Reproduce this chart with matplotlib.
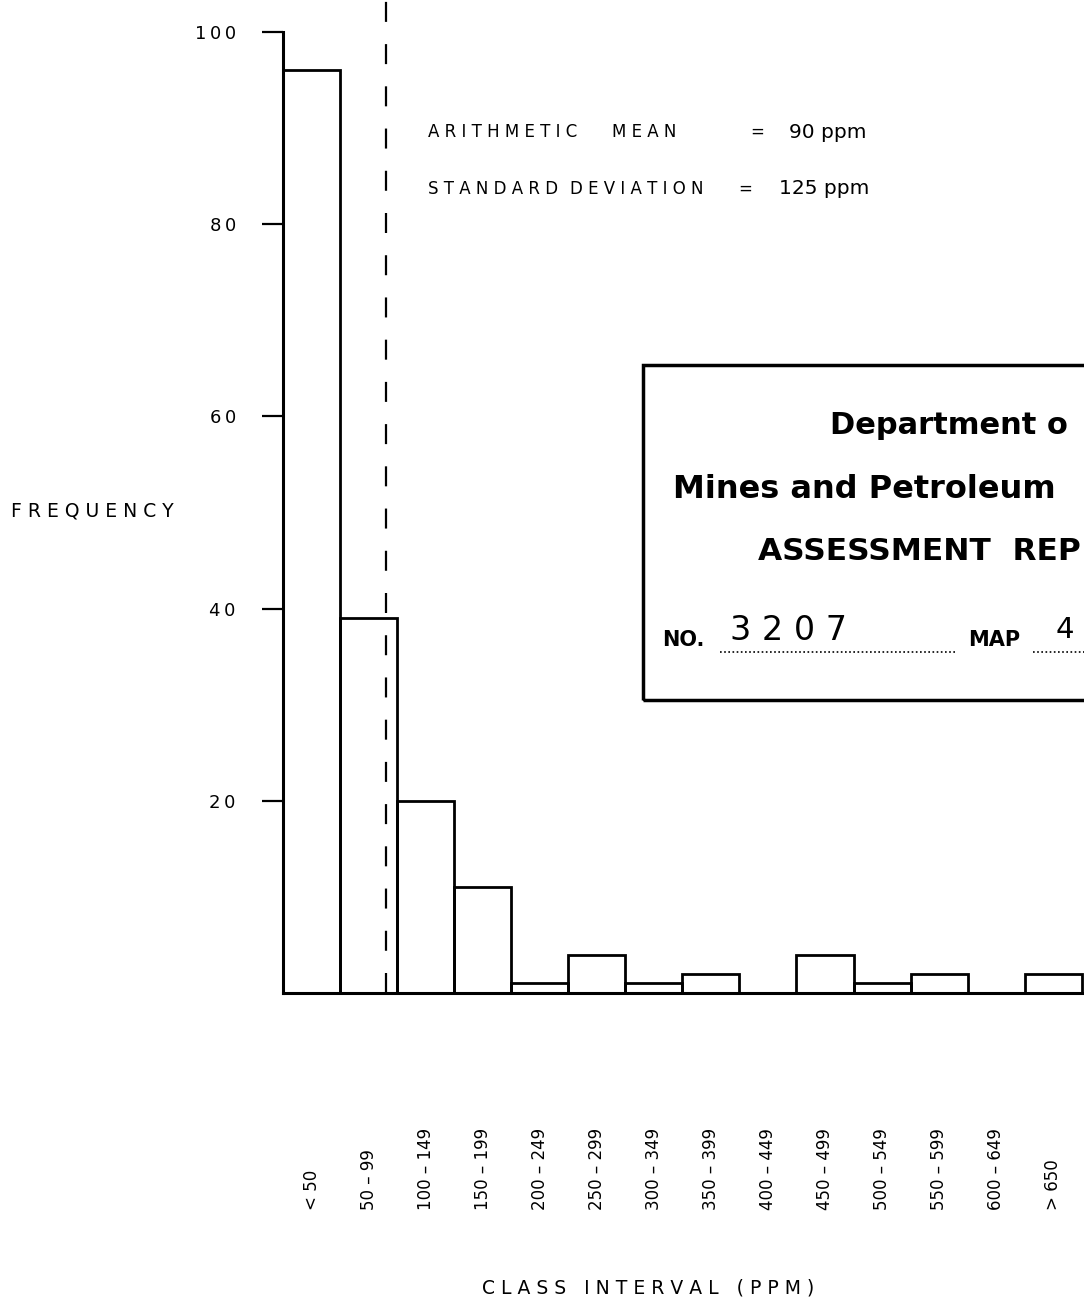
import matplotlib.pyplot as plt
from matplotlib.patches import Rectangle

# data
bin_lower = [0, 50, 100, 150, 200, 250, 300, 350, 400, 450, 500, 550, 600, 650]
bin_width = 50
frequency = [96, 39, 20, 11, 1, 4, 1, 2, 0, 4, 1, 2, 0, 2]
class_labels = ['< 50', '50 – 99', '100 – 149', '150 – 199', '200 – 249',
                '250 – 299', '300 – 349', '350 – 399', '400 – 449',
                '450 – 499', '500 – 549', '550 – 599', '600 – 649', '> 650']
y_ticks = [20, 40, 60, 80, 100]
mean_ppm = 90
std_ppm = 125

W, H = 1084, 1300


def fx(x):
    return x / W


def fy(y):
    return 1 - y / H


def spaced(s, sep=' '):
    return sep.join(s)


fig = plt.figure(figsize=(W / 100, H / 100), dpi=100)
ax = fig.add_axes([fx(283), fy(993), 801 / W, 961 / H])

ax.bar(bin_lower, frequency, width=bin_width, align='edge',
       fill=False, edgecolor='black', linewidth=2.0)
ax.set_xlim(0, 702)
ax.set_ylim(0, 100)

# mean line
ax.plot([mean_ppm, mean_ppm], [0, 103.4], color='black', lw=1.6,
        ls=(0, (9, 10)), clip_on=False)

for s in ['top', 'right']:
    ax.spines[s].set_visible(False)
ax.spines['left'].set_linewidth(2.2)
ax.spines['bottom'].set_linewidth(2.2)
ax.spines['left'].set_bounds(0, 100)

ax.set_xticks([])
ax.set_yticks(y_ticks)
ax.set_yticklabels([spaced(str(t), '\u2009') for t in y_ticks], fontsize=13)
ax.tick_params(axis='y', direction='out', length=15, width=1.6, pad=19)

# class interval labels, rotated
for lo, lab in zip(bin_lower, class_labels):
    ax.text(lo + bin_width / 2, -0.2258, lab, rotation=90, ha='center',
            va='bottom', fontsize=12, transform=ax.get_xaxis_transform())

fig.text(fx(92), fy(511), spaced('FREQUENCY'), fontsize=13.5,
         ha='center', va='center')
fig.text(fx(648), fy(1288), spaced('CLASS') + '   ' + spaced('INTERVAL')
         + '   ( ' + spaced('PPM') + ' )', fontsize=13.5, ha='center',
         va='center')

# statistics
fig.text(fx(428), fy(132), spaced('ARITHMETIC'), fontsize=12, va='center')
fig.text(fx(612), fy(132), spaced('MEAN'), fontsize=12, va='center')
fig.text(fx(757), fy(132), '=', fontsize=12, va='center', ha='center')
fig.text(fx(789), fy(132), f'{mean_ppm} ppm', fontsize=14.5, va='center')
fig.text(fx(428), fy(189), spaced('STANDARD'), fontsize=12, va='center')
fig.text(fx(570), fy(189), spaced('DEVIATION'), fontsize=12, va='center')
fig.text(fx(745), fy(189), '=', fontsize=12, va='center', ha='center')
fig.text(fx(779), fy(189), f'{std_ppm} ppm', fontsize=14.5, va='center')

# assessment report stamp (runs off the right edge, as in the scan)
fig.add_artist(Rectangle((fx(643), fy(700)), (W + 20 - 643) / W, 335 / H,
                         transform=fig.transFigure, fill=False,
                         edgecolor='black', linewidth=2.5))
fig.text(fx(830), fy(426), 'Department o', fontsize=22, fontweight='bold',
         va='center')
fig.text(fx(673), fy(489), 'Mines and Petroleum', fontsize=23,
         fontweight='bold', va='center')
fig.text(fx(758), fy(551), 'ASSESSMENT  REP', fontsize=22.5,
         fontweight='bold', va='center')
fig.text(fx(662), fy(640), 'NO.', fontsize=15, fontweight='bold', va='center')
fig.text(fx(730), fy(630), '3 2 0 7', fontsize=24, va='center')
fig.text(fx(968), fy(640), 'MAP', fontsize=15, fontweight='bold', va='center')
fig.text(fx(1056), fy(630), '4', fontsize=21, va='center')
fig.add_artist(plt.Line2D([fx(720), fx(957)], [fy(652), fy(652)],
                          transform=fig.transFigure, color='black',
                          lw=1.2, ls=(0, (1, 1.5))))
fig.add_artist(plt.Line2D([fx(1033), fx(1084)], [fy(652), fy(652)],
                          transform=fig.transFigure, color='black',
                          lw=1.2, ls=(0, (1, 1.5))))

fig.savefig('out.png', dpi=100)
